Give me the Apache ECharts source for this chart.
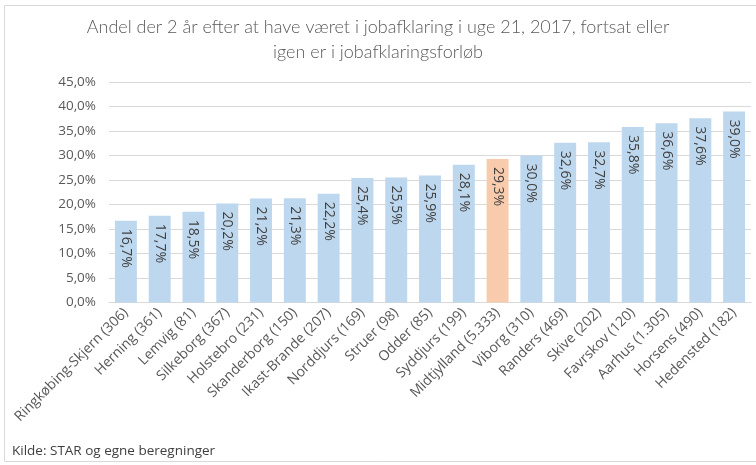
<!DOCTYPE html>
<html><head><meta charset="utf-8">
<script src="https://cdn.jsdelivr.net/npm/echarts@6/dist/echarts.min.js"></script>
<style>html,body{margin:0;padding:0;background:#fff}#c{width:756px;height:465px}</style>
</head><body><div id="c"></div>
<script>
const categories = ["Ringkøbing-Skjern (306)","Herning (361)","Lemvig (81)","Silkeborg (367)","Holstebro (231)","Skanderborg (150)","Ikast-Brande (207)","Norddjurs (169)","Struer (98)","Odder (85)","Syddjurs (199)","Midtjylland (5.333)","Viborg (310)","Randers (469)","Skive (202)","Favrskov (120)","Aarhus (1.305)","Horsens (490)","Hedensted (182)"];
const values = [16.7,17.7,18.5,20.2,21.2,21.3,22.2,25.4,25.5,25.9,28.1,29.3,30.0,32.6,32.7,35.8,36.6,37.6,39.0];
const highlight = "Midtjylland (5.333)";
const yTicks = {min:0, max:45, interval:5};
const titleText = "Andel der 2 år efter at have været i jobafklaring i uge 21, 2017, fortsat eller\nigen er i jobafklaringsforløb";
const sourceText = "Kilde: STAR og egne beregninger";

const fmt = v => Number(v).toFixed(1).replace('.', ',') + '%';
const FONT = "'Open Sans', sans-serif";
const chart = echarts.init(document.getElementById('c'), null, {renderer:'canvas'});
chart.setOption({
  animation:false,
  backgroundColor:'#fff',
  title:{text:titleText, left:'center', top:10, textStyle:{fontFamily:"Lato, sans-serif", fontWeight:300, fontSize:18, color:'#595959', lineHeight:25}},
  grid:{left:109, right:5, top:82, bottom:162.5, containLabel:false},
  xAxis:{type:'category', data:categories,
    axisLine:{lineStyle:{color:'#D9D9D9', width:1}}, axisTick:{show:false},
    axisLabel:{rotate:45, interval:0, fontFamily:FONT, fontSize:14, color:'#595959', margin:8}},
  yAxis:{type:'value', min:yTicks.min, max:yTicks.max, interval:yTicks.interval,
    axisLabel:{formatter:fmt, fontFamily:FONT, fontSize:13.5, color:'#595959', margin:13},
    splitLine:{lineStyle:{color:'#D9D9D9', width:1}}, axisLine:{show:false}, axisTick:{show:false}},
  series:[{type:'bar', barCategoryGap:'35%',
    data:values.map((v,i)=>({value:v, itemStyle:{color: categories[i]===highlight ? '#F8CBAD' : '#BDD7EE'}})),
    label:{show:true, position:'insideTop', rotate:-90, align:'left', verticalAlign:'middle', distance:8,
      formatter:p=>fmt(p.value), fontFamily:FONT, fontSize:14, color:'#404040'}}],
  graphic:[
    {type:'rect', shape:{x:4.5, y:5.5, width:760, height:456}, style:{fill:'none', stroke:'#D9D9D9', lineWidth:1}, silent:true},
    {type:'text', left:12, top:444, style:{text:sourceText, font:"13.5px 'Open Sans', sans-serif", fill:'#404040'}}
  ]
});
</script></body></html>
